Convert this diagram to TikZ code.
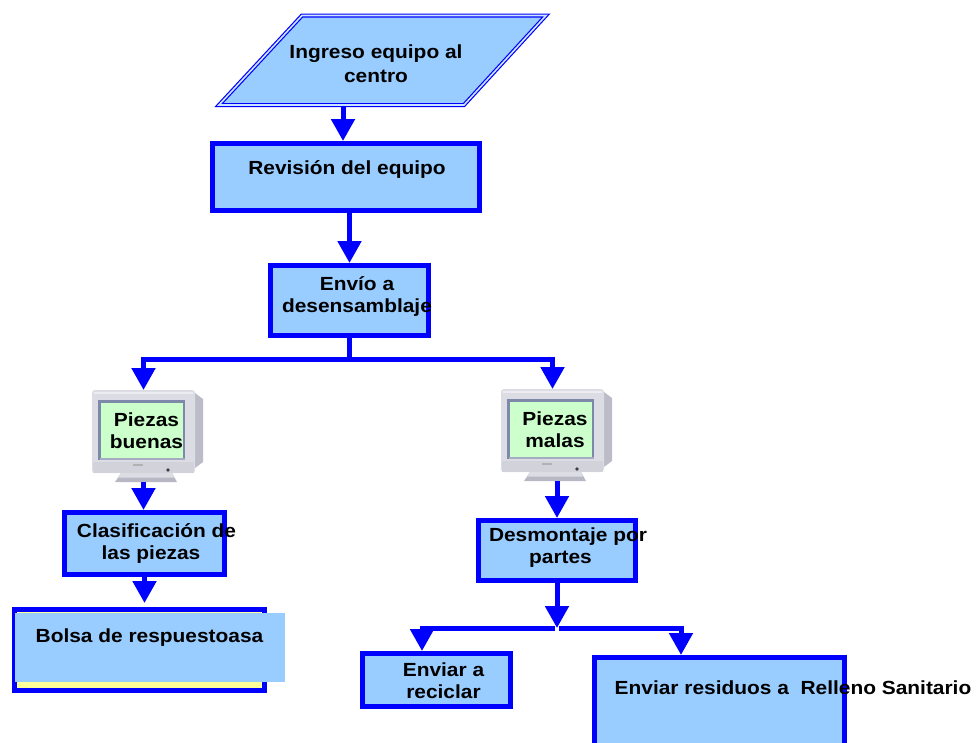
\documentclass[tikz,border=0pt]{standalone}
\usepackage{fontspec}
\setmainfont{Liberation Sans}[FakeStretch=1.1]
\usetikzlibrary{arrows.meta}
\definecolor{boxblue}{HTML}{99CCFF}
\definecolor{lineblue}{HTML}{0000FF}
\definecolor{scrgreen}{HTML}{CCFFCC}
\definecolor{padyellow}{HTML}{FFFF99}
\definecolor{bezelc}{HTML}{DCDCE4}
\definecolor{bezellow}{HTML}{D2D2DA}
\definecolor{bezeldark}{HTML}{B8B8C4}
\definecolor{monside}{HTML}{BCBCC8}
\definecolor{scrframe}{HTML}{7E88A8}
\begin{document}
\begin{tikzpicture}[x=1pt,y=-1pt,
  stepbox/.style={draw=lineblue, line width=5pt, fill=boxblue, inner sep=0pt},
  lbl/.style={font=\bfseries\fontsize{19}{22.5}\selectfont, align=center, inner sep=0pt, anchor=north},
  conn/.style={draw=lineblue, line width=5pt, -{Triangle[width=23pt,length=22pt]}},
  monitor/.pic={
    \fill[monside] (103,3) -- (111,9) -- (111,72) -- (103,78) -- cycle;
    \fill[bezelc, rounded corners=3pt] (0,0) rectangle (103,83);
    \fill[white, opacity=0.5] (2,1.5) rectangle (101,4);
    \fill[bezellow] (1,72) rectangle (102,83);
    \fill[scrframe] (6,10) rectangle (93,70);
    \fill[scrframe!70!white] (8,68) rectangle (93,70);
    \fill[scrgreen] (9,13) rectangle (91,68);
    \fill[gray!60] (41,74) rectangle (51,75.5);
    \fill[black!75] (76,80) circle (1.8);
    \fill[bezeldark] (29,83) -- (80,83) -- (85,92) -- (23,92) -- cycle;
    \fill[bezelc] (29,83) -- (80,83) -- (82,87.5) -- (26,87.5) -- cycle;
  }]
\useasboundingbox (0,0) rectangle (977,742);
\clip (0,0) rectangle (977,742);

% input parallelogram
\draw[draw=lineblue, line width=1.2pt, double=boxblue!50!white, double distance=1.6pt, fill=boxblue]
  (302,15.5) -- (546,15.5) -- (464,105) -- (219,105) -- cycle;
\coordinate (ingb) at (343,107);
\node[lbl] (ting) at (376,45) {Ingreso equipo al\\[1pt]centro};

% boxes
\node[stepbox, minimum width=267pt, minimum height=67pt] (rev) at (346,177) {};
\node[lbl] (trev) at (347,160) {Revisión del equipo};

\node[stepbox, minimum width=158pt, minimum height=70pt] (env) at (349.5,300.5) {};
\node[lbl] (tenv) at (357,276) {Envío a\\desensamblaje};

% monitors
\node[inner sep=0pt, outer sep=0pt, minimum width=103pt, minimum height=92pt] (mon1) at (143.5,436) {};
\pic at (92,390) {monitor};
\node[lbl, font=\bfseries\fontsize{19}{22}\selectfont] (tpb) at (146.5,413) {Piezas\\buenas};

\node[inner sep=0pt, outer sep=0pt, minimum width=103pt, minimum height=92pt] (mon2) at (552.5,435) {};
\pic at (501,389) {monitor};
\node[lbl, font=\bfseries\fontsize{19}{22}\selectfont] (tpm) at (555,412) {Piezas\\malas};

\node[stepbox, minimum width=160pt, minimum height=62pt] (clas) at (144.5,543.5) {};
\node[lbl] (tclas) at (156.5,523) {Clasificación de\\las piezas\hspace*{11pt}};

\node[stepbox, fill=padyellow, minimum width=250pt, minimum height=81pt] (bolsa) at (139.5,650) {};
\fill[boxblue] (15,613) rectangle (285,682);
\node[lbl] (tbolsa) at (149.5,629) {Bolsa de respuestoasa};

\node[stepbox, minimum width=157pt, minimum height=60pt] (desm) at (557,550.5) {};
\node[lbl, font=\bfseries\fontsize{19}{22}\selectfont] (tdesm) at (568,528) {Desmontaje por\\partes\hspace*{15pt}};

\node[stepbox, minimum width=148pt, minimum height=53pt] (rec) at (436.5,680) {};
\node[lbl, font=\bfseries\fontsize{19}{22}\selectfont] (trec) at (443.5,663) {Enviar a\\reciclar};

\node[stepbox, minimum width=250pt, minimum height=105pt] (res) at (719.5,710) {};
\node[lbl] (tres) at (793,681) {Enviar residuos a\ \ Relleno Sanitario};

% connectors
\draw[conn] (ingb) -- (ingb |- rev.north);
\draw[conn] (env.north |- rev.south) -- (env.north);
\draw[conn] (env.south) -- ++(0,21) -| (mon1.north);
\draw[conn] (env.south) -- ++(0,21) -| (mon2.north);
\draw[conn] (mon1.south) -- (mon1.south |- clas.north);
\draw[conn, shorten >=4pt] (clas.south) -- (clas.south |- bolsa.north);
\draw[conn] (desm.north |- mon2.south) -- (desm.north);
\coordinate (split) at (557,628);
\draw[conn] (desm.south) -- (split);
\draw[conn] ([xshift=-2pt]split) -| ([xshift=-14.5pt]rec.north);
\draw[conn] ([xshift=2pt]split) -| ([xshift=-38.5pt]res.north);
\end{tikzpicture}
\end{document}
